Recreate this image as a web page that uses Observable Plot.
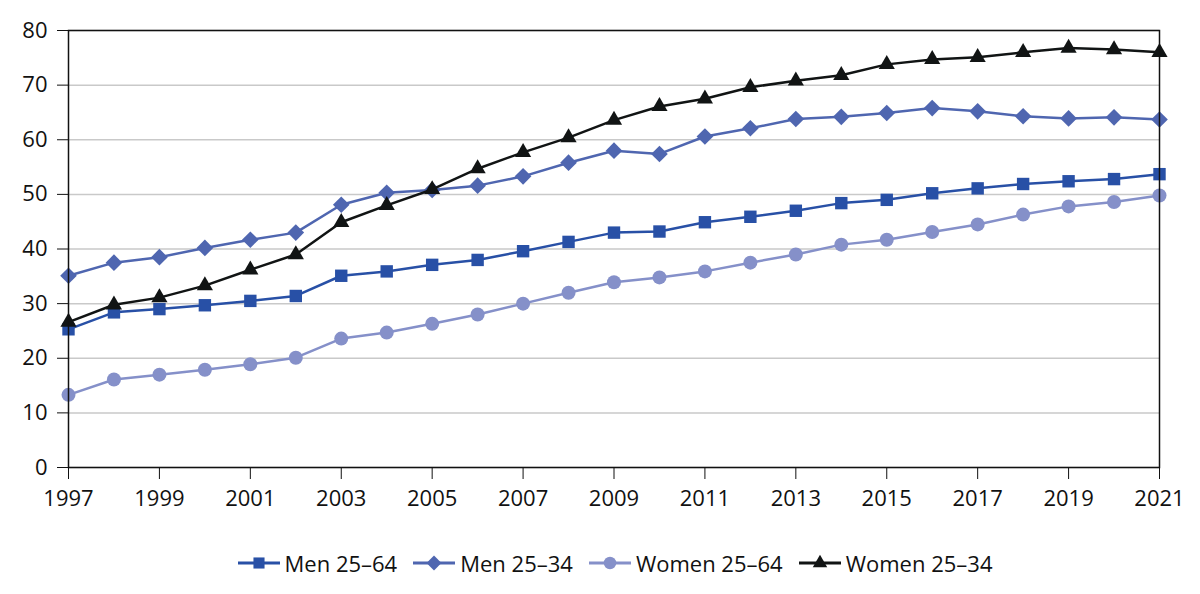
<!DOCTYPE html>
<html>
<head>
<meta charset="utf-8">
<script src="https://cdn.jsdelivr.net/npm/d3@7"></script>
<script src="https://cdn.jsdelivr.net/npm/@observablehq/plot@0.6"></script>
<style>
  body { margin: 0; background: #fff; font-family: "Open Sans", sans-serif; }
  #legend { display: flex; justify-content: center; align-items: center; height: 86px; padding-left: 30px; font-size: 22px; color: #111; }
  .item { display: flex; align-items: center; margin: 0 8px; }
  .item svg { margin-right: 5px; }
</style>
</head>
<body>
<div id="chart"></div>
<div id="legend"></div>
<script>
const years = [1997, 1998, 1999, 2000, 2001, 2002, 2003, 2004, 2005, 2006, 2007, 2008, 2009,
               2010, 2011, 2012, 2013, 2014, 2015, 2016, 2017, 2018, 2019, 2020, 2021];
const men2564   = [25.3, 28.4, 29.0, 29.7, 30.5, 31.4, 35.1, 35.9, 37.1, 38.0, 39.6, 41.3, 43.0,
                   43.2, 44.9, 45.9, 47.0, 48.4, 49.0, 50.2, 51.1, 51.9, 52.4, 52.8, 53.7];
const men2534   = [35.1, 37.5, 38.5, 40.2, 41.7, 43.0, 48.1, 50.3, 50.8, 51.6, 53.3, 55.8, 58.0,
                   57.4, 60.6, 62.1, 63.8, 64.2, 64.9, 65.8, 65.2, 64.3, 63.9, 64.1, 63.7];
const women2564 = [13.3, 16.1, 17.0, 17.9, 18.9, 20.1, 23.6, 24.7, 26.3, 28.0, 30.0, 32.0, 33.9,
                   34.8, 35.9, 37.5, 39.0, 40.8, 41.7, 43.1, 44.5, 46.3, 47.8, 48.6, 49.8];
const women2534 = [26.6, 29.8, 31.1, 33.3, 36.2, 39.0, 44.9, 48.0, 50.9, 54.7, 57.7, 60.4, 63.6,
                   66.1, 67.5, 69.6, 70.8, 71.8, 73.8, 74.7, 75.1, 76.0, 76.8, 76.5, 76.0];
const seriesNames = ["Men 25–64", "Men 25–34", "Women 25–64", "Women 25–34"];
const seriesColors = ["#2850a6", "#4f66b0", "#8590c9", "#111414"];
const seriesSymbols = ["square", "diamond2", "circle", "triangle"];
const seriesR = [7, 7.5, 7, 6];
const xTicks = [1997, 1999, 2001, 2003, 2005, 2007, 2009, 2011, 2013, 2015, 2017, 2019, 2021];
const yTicks = [0, 10, 20, 30, 40, 50, 60, 70, 80];

const seriesValues = [men2564, men2534, women2564, women2534];
const tables = seriesValues.map((vals, k) => years.map((y, i) => ({year: y, value: vals[i], series: seriesNames[k]})));

const marks = [
  Plot.gridY(yTicks, {stroke: "#c9c9c9", strokeOpacity: 1, strokeWidth: 1.5}),
  Plot.axisX(xTicks, {tickSize: 12, tickPadding: 11, tickFormat: d => String(d), label: null, fontSize: 22, stroke: "#111", fill: "#111"}),
  Plot.axisY(yTicks, {tickSize: 11, tickPadding: 10, label: null, fontSize: 22, stroke: "#111", fill: "#111"}),
];
tables.forEach((t, k) => {
  marks.push(Plot.line(t, {x: "year", y: "value", stroke: seriesColors[k], strokeWidth: 2.5}));
  marks.push(Plot.dot(t, {x: "year", y: "value", symbol: () => seriesSymbols[k], fill: seriesColors[k], r: seriesR[k]}));
});
marks.push(Plot.frame({stroke: "#111", strokeWidth: 1.5}));

const chart = Plot.plot({
  width: 1200, height: 520,
  marginTop: 30, marginRight: 41, marginBottom: 53, marginLeft: 68,
  style: {fontFamily: "Open Sans", fontSize: "22px", color: "#111", background: "#fff", overflow: "visible"},
  x: {domain: [1997, 2021]},
  y: {domain: [0, 80]},
  symbol: {type: "identity"},
  marks
});
document.getElementById("chart").append(chart);

const legend = d3.select("#legend");
const d3Symbols = {square: d3.symbolSquare, diamond2: d3.symbolDiamond2, circle: d3.symbolCircle, triangle: d3.symbolTriangle};
seriesNames.forEach((name, k) => {
  const item = legend.append("div").attr("class", "item");
  const svg = item.append("svg").attr("width", 42).attr("height", 20);
  svg.append("line").attr("x1", 0).attr("x2", 42).attr("y1", 10).attr("y2", 10)
     .attr("stroke", seriesColors[k]).attr("stroke-width", 3);
  svg.append("path").attr("transform", "translate(21,10)")
     .attr("d", d3.symbol(d3Symbols[seriesSymbols[k]], Math.PI * seriesR[k] * seriesR[k] * 0.8)())
     .attr("fill", seriesColors[k]);
  item.append("span").text(name);
});
</script>
</body>
</html>
